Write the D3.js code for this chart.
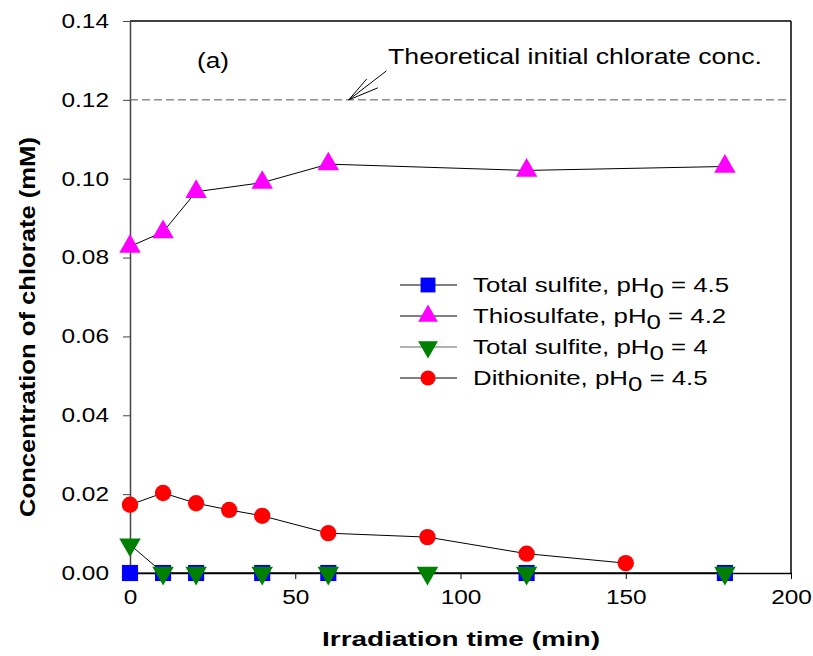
<!DOCTYPE html>
<html>
<head>
<meta charset="utf-8">
<script src="https://cdn.jsdelivr.net/npm/d3@7"></script>
<style>
  body { margin: 0; background: #fff; }
  svg text { font-family: "Liberation Sans", Arial, sans-serif; }
</style>
</head>
<body>
<div id="chart"></div>
<script>
// data
const xTicks = [0, 50, 100, 150, 200];
const yTicks = [0, 0.02, 0.04, 0.06, 0.08, 0.10, 0.12, 0.14];

const sulfite45Time = [0, 10, 20, 40, 60, 120, 180];
const sulfite45Conc = [0, 0, 0, 0, 0, 0, 0];

const thioTime = [0, 10, 20, 40, 60, 120, 180];
const thioConc = [0.0828, 0.0865, 0.0967, 0.099, 0.1037, 0.1021, 0.1031];

const sulfite4Time = [0, 10, 20, 40, 60, 90, 120, 180];
const sulfite4Conc = [0.0072, 0, 0, 0, 0, 0, 0, 0];

const dithTime = [0, 10, 20, 30, 40, 60, 90, 120, 150];
const dithConc = [0.0173, 0.0203, 0.0177, 0.016, 0.0145, 0.0101, 0.0091, 0.0049, 0.0025];

const legendLabels = ["Total sulfite, pH", "Thiosulfate, pH", "Total sulfite, pH", "Dithionite, pH"];
const legendPH = ["4.5", "4.2", "4", "4.5"];
const theoreticalConc = 0.12;

const W = 813, H = 656;
const margin = { top: 21, right: 22, bottom: 83, left: 130 };
const width = W - margin.left - margin.right;
const height = H - margin.top - margin.bottom;

const x = d3.scaleLinear().domain([0, 200]).range([0, width]);
const y = d3.scaleLinear().domain([0, 0.14]).range([height, 0]);

const svg = d3.select('#chart').append('svg')
  .attr('width', W)
  .attr('height', H);

const g = svg.append('g')
  .attr('transform', `translate(${margin.left},${margin.top})`);

// the original text is a bit stretched sideways
function stretch(sel, k) {
  sel.each(function() {
    const w = this.getComputedTextLength();
    d3.select(this).attr('textLength', w * k).attr('lengthAdjust', 'spacingAndGlyphs');
  });
}

// frame: top and right
g.append('line').attr('x1', 0).attr('x2', width).attr('y1', 0).attr('y2', 0)
  .attr('stroke', '#000').attr('stroke-width', 1.5);
g.append('line').attr('x1', width).attr('x2', width).attr('y1', 0).attr('y2', height)
  .attr('stroke', '#000').attr('stroke-width', 1.5);

// axes
const xAxis = g.append('g')
  .attr('transform', `translate(0,${height})`)
  .call(d3.axisBottom(x).tickValues(xTicks).tickSize(6).tickPadding(11).tickSizeOuter(0));
xAxis.select('.domain').attr('stroke', '#000').attr('stroke-width', 1.5);
xAxis.selectAll('.tick line').attr('stroke', '#000');
xAxis.selectAll('text').attr('font-size', 20).attr('fill', '#000')
  .attr('font-family', '"Liberation Sans", Arial, sans-serif');
stretch(xAxis.selectAll('text'), 1.22);

const yAxis = g.append('g')
  .call(d3.axisLeft(y).tickValues(yTicks).tickFormat(d3.format('.2f')).tickSize(7).tickPadding(14).tickSizeOuter(0));
yAxis.select('.domain').attr('stroke', '#444').attr('stroke-width', 1.5);
yAxis.selectAll('.tick line').attr('stroke', '#444');
yAxis.selectAll('text').attr('font-size', 20).attr('fill', '#000')
  .attr('font-family', '"Liberation Sans", Arial, sans-serif');
stretch(yAxis.selectAll('text'), 1.22);

// theoretical line
g.append('line')
  .attr('x1', 0).attr('x2', width)
  .attr('y1', y(theoreticalConc)).attr('y2', y(theoreticalConc))
  .attr('stroke', '#555').attr('stroke-width', 1)
  .attr('stroke-dasharray', '8,4');

// annotation
g.append('text').attr('x', 67).attr('y', 47).attr('font-size', 22)
  .attr('textLength', 32).attr('lengthAdjust', 'spacingAndGlyphs').text('(a)');
g.append('text').attr('x', 258).attr('y', 43).attr('font-size', 22)
  .attr('textLength', 374).attr('lengthAdjust', 'spacingAndGlyphs')
  .text('Theoretical initial chlorate conc.');

const tip = [x(66.2), y(theoreticalConc)];
const tail = [x(77.6), y(theoreticalConc) - 29];
const arrow = g.append('g').attr('stroke', '#000').attr('stroke-width', 1).attr('fill', 'none');
arrow.append('line').attr('x1', tail[0]).attr('y1', tail[1]).attr('x2', tip[0]).attr('y2', tip[1]);
arrow.append('line').attr('x1', tip[0]).attr('y1', tip[1]).attr('x2', tip[0] + 18).attr('y2', tip[1] - 21);
arrow.append('line').attr('x1', tip[0]).attr('y1', tip[1]).attr('x2', tip[0] + 29).attr('y2', tip[1] - 12);

// series
function zip(t, c) { return t.map((d, i) => ({ t: d, c: c[i] })); }
const line = d3.line().x(d => x(d.t)).y(d => y(d.c));

const series = [
  { data: zip(sulfite45Time, sulfite45Conc), color: '#0000ff', shape: d3.symbolSquare, size: 260, rot: 0 },
  { data: zip(thioTime, thioConc), color: '#ff00ff', shape: d3.symbolTriangle, size: 200, rot: 0 },
  { data: zip(sulfite4Time, sulfite4Conc), color: '#008000', shape: d3.symbolTriangle, size: 200, rot: 180 },
  { data: zip(dithTime, dithConc), color: '#ff0000', shape: d3.symbolCircle, size: 210, rot: 0 }
];

series.forEach(s => {
  g.append('path').datum(s.data)
    .attr('fill', 'none').attr('stroke', '#000').attr('stroke-width', 1)
    .attr('d', line);
});
series.forEach(s => {
  g.selectAll(null).data(s.data).enter().append('path')
    .attr('d', d3.symbol().type(s.shape).size(s.size))
    .attr('transform', d => `translate(${x(d.t)},${y(d.c)}) rotate(${s.rot})`)
    .attr('fill', s.color);
});

// legend
const legend = g.append('g').attr('transform', 'translate(270,264)');
series.forEach((s, i) => {
  const row = legend.append('g').attr('transform', `translate(0,${i * 31})`);
  row.append('line').attr('x1', 0).attr('x2', 57).attr('y1', 0).attr('y2', 0)
    .attr('stroke', i === 2 ? '#666' : '#000').attr('stroke-width', 1);
  row.append('path')
    .attr('d', d3.symbol().type(s.shape).size(s.size * 0.85))
    .attr('transform', `translate(28,0) rotate(${s.rot})`)
    .attr('fill', s.color);
  const t = row.append('text').attr('transform', 'translate(73,7) scale(1.23,1)').attr('font-size', 21);
  t.append('tspan').text(legendLabels[i]);
  t.append('tspan').attr('dy', 6).text('0');
  t.append('tspan').attr('dy', -6).text(' = ' + legendPH[i]);
});

// axis titles
svg.append('text')
  .attr('x', 461).attr('y', 646)
  .attr('text-anchor', 'middle')
  .attr('font-family', '"DejaVu Sans", Verdana, sans-serif')
  .attr('font-weight', 'bold')
  .attr('font-size', 21)
  .attr('textLength', 278).attr('lengthAdjust', 'spacingAndGlyphs')
  .text('Irradiation time (min)');

svg.append('text')
  .attr('transform', 'translate(35,327) rotate(-90)')
  .attr('text-anchor', 'middle')
  .attr('font-family', '"Liberation Sans Narrow", "Liberation Sans", Arial, sans-serif')
  .attr('font-weight', 'bold')
  .attr('font-size', 22)
  .attr('textLength', 380).attr('lengthAdjust', 'spacingAndGlyphs')
  .text('Concentration of chlorate (mM)');
</script>
</body>
</html>
